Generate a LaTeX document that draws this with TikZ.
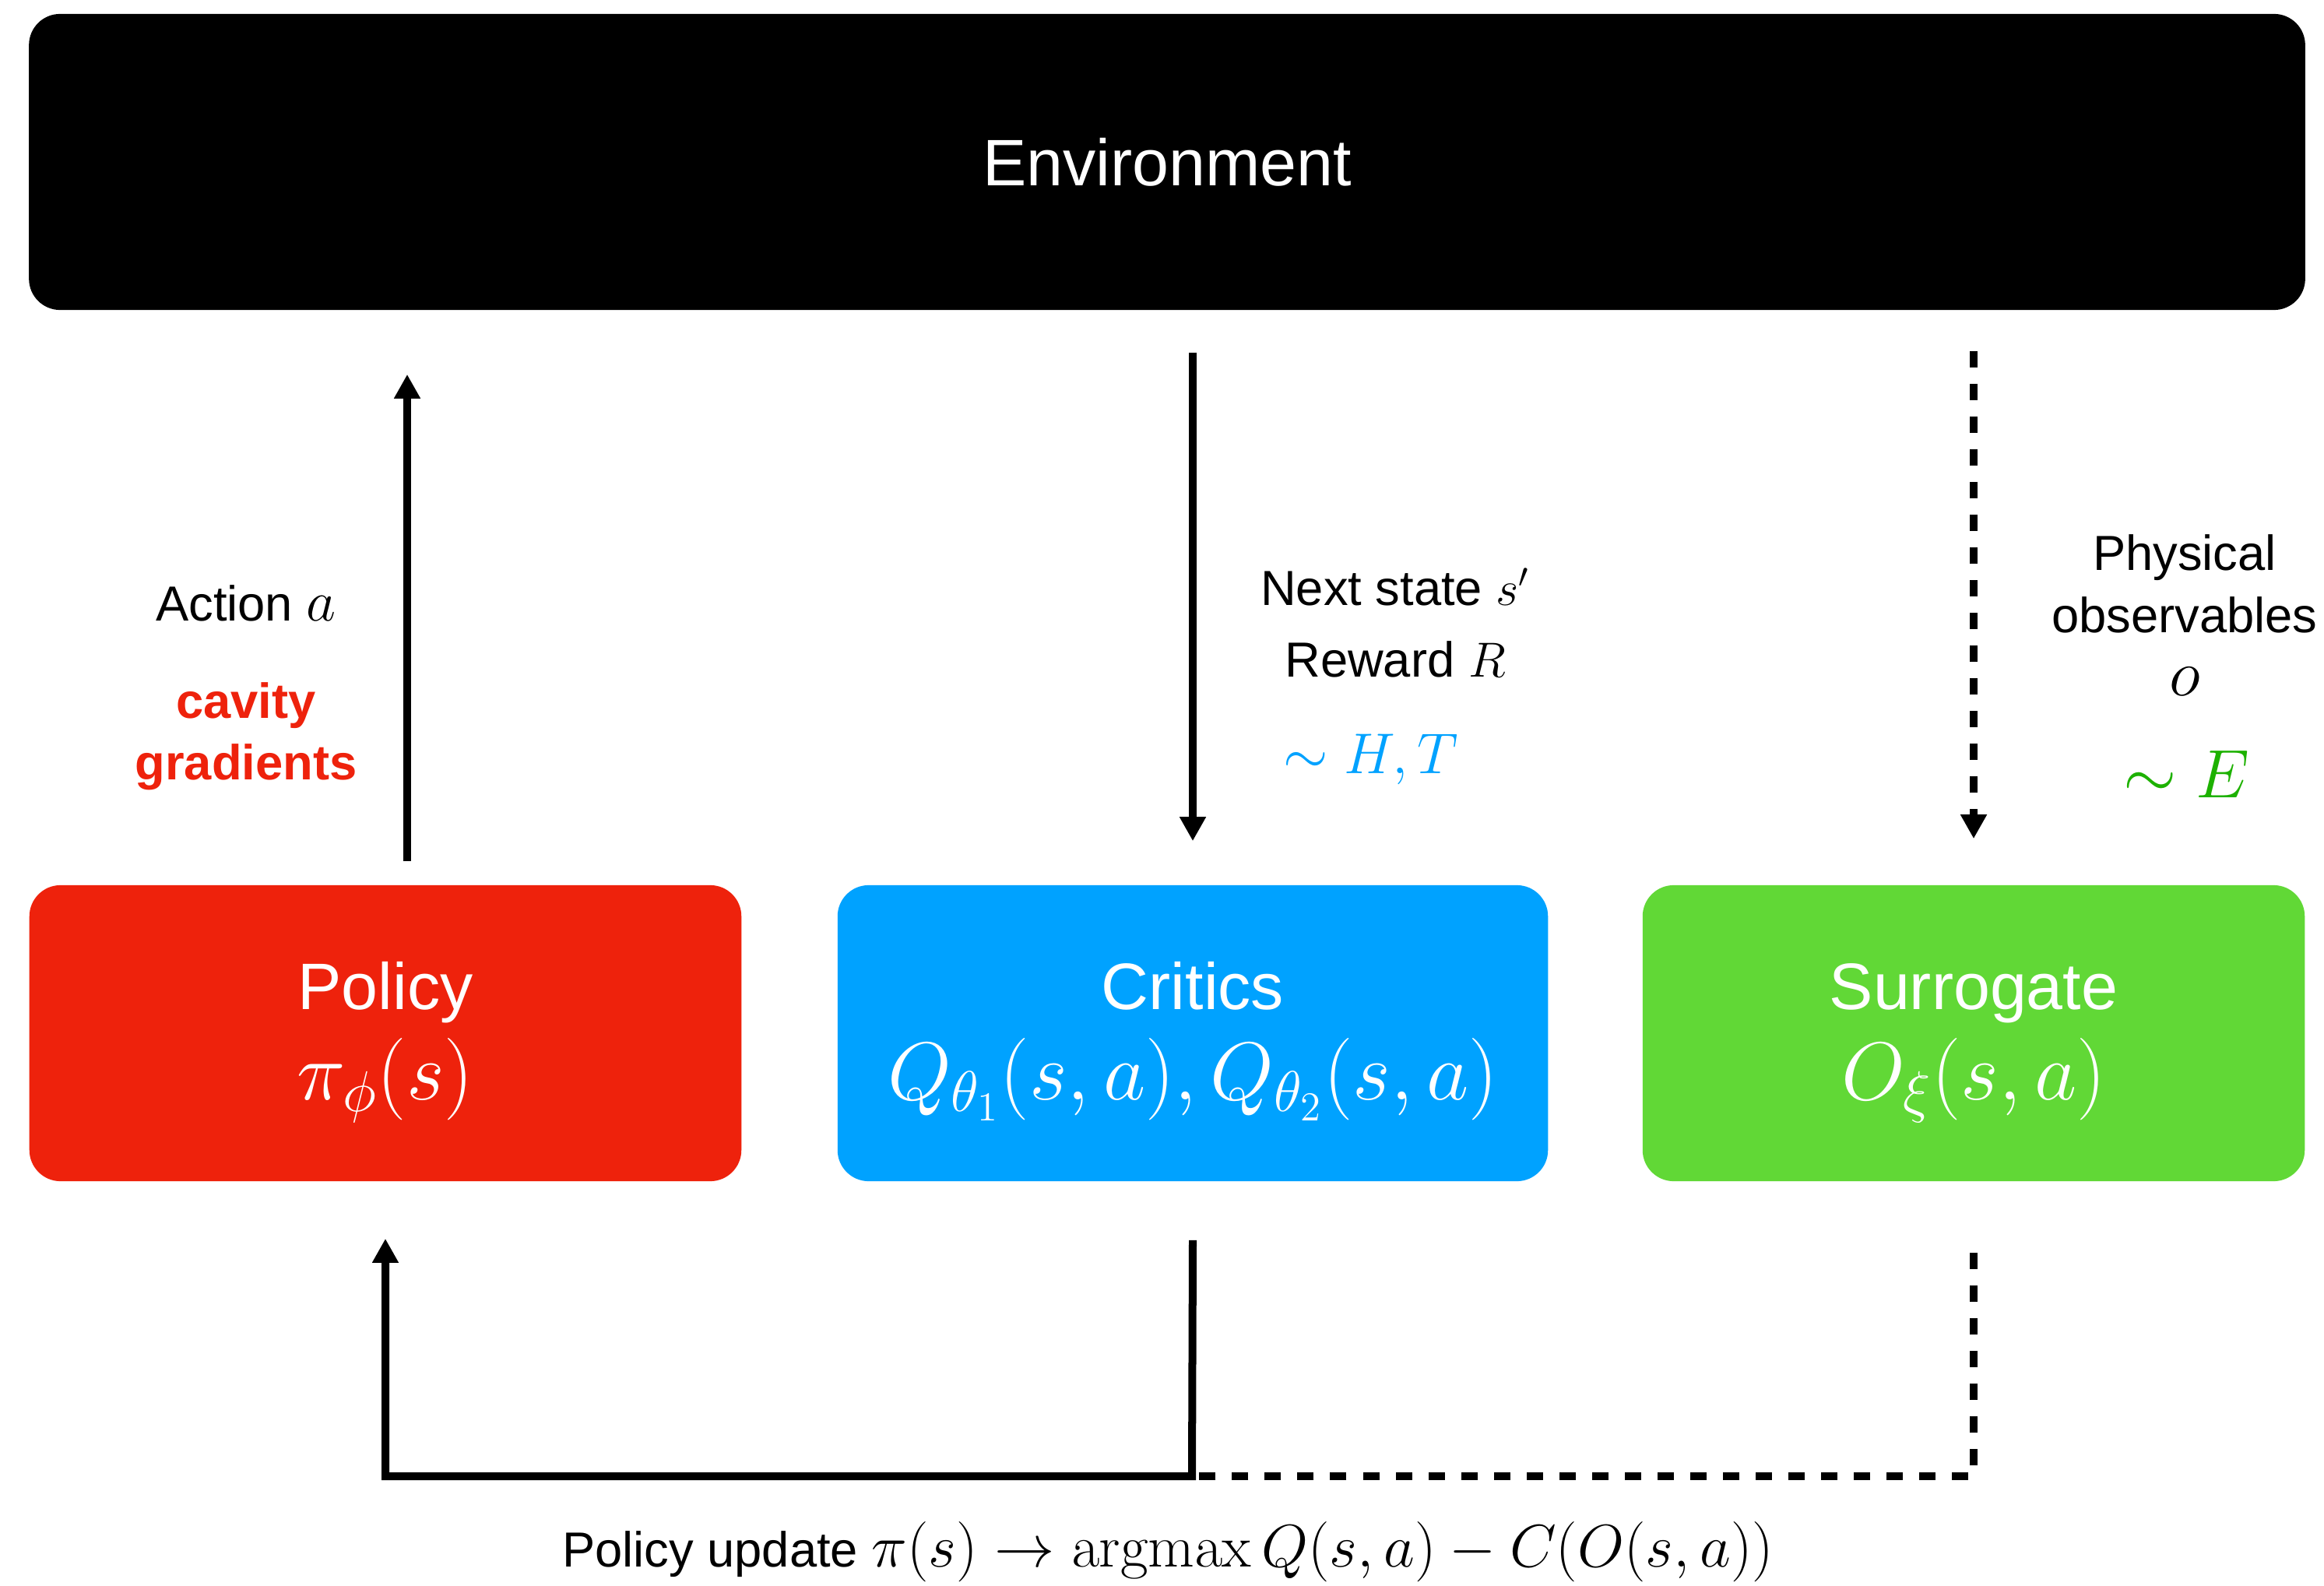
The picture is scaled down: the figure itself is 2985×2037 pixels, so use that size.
\documentclass[tikz,border=0pt]{standalone}
\usepackage{fix-cm}
\usepackage{fontspec}
\setmainfont{Liberation Sans}
\usetikzlibrary{arrows.meta}
\definecolor{kred}{HTML}{EE220C}
\definecolor{kblue}{HTML}{00A2FF}
\definecolor{kgreen}{HTML}{61D836}
\definecolor{dgreen}{HTML}{1DB100}
\tikzset{
  block/.style={rectangle, rounded corners=0.4cm, draw=none, text=white, align=center,
    minimum height=3.8cm, inner sep=0pt, font=\fontsize{24}{33}\selectfont},
  conn/.style={line width=0.1cm, line cap=butt, line join=miter},
  dashconn/.style={conn, dash pattern=on 0.21cm off 0.21cm},
  tip/.style={-{Triangle[width=0.32cm,length=0.31cm]}},
  lbl/.style={align=center, inner sep=0pt, font=\fontsize{18}{23}\selectfont},
}
\newcommand{\boxmath}{\fontsize{30}{33}\selectfont}
\newcommand{\topstrut}{\rule{0pt}{25.4pt}}
\newcommand{\botstrut}{\rule[-10pt]{0pt}{10pt}}
\newcommand{\cmrm}[1]{\mbox{\usefont{OT1}{cmr}{m}{n}#1}}
\begin{document}
\begin{tikzpicture}[x=0.01cm, y=-0.01cm]
\useasboundingbox (0,0) rectangle (2985,2037);

% blocks
\node[block, fill=black, minimum width=29.22cm] (env) at (1499,208) {Environment};
\node[block, fill=kred, minimum width=9.14cm] (policy) at (495,1327)
  {\topstrut Policy\\{\boxmath$\pi_\phi(s)$}\botstrut};
\node[block, fill=kblue, minimum width=9.12cm] (critics) at (1532,1327)
  {\topstrut Critics\\{\boxmath$Q_{\theta_1}(s,a), Q_{\theta_2}(s,a)$}\botstrut};
\node[block, fill=kgreen, minimum width=8.50cm] (surr) at (2535,1327)
  {\topstrut Surrogate\\{\boxmath$O_\xi(s,a)$}\botstrut};

% upper connectors
\draw[conn, tip, shorten <=0.30cm, shorten >=0.82cm]
  ([xshift=0.28cm]policy.north) -- ([xshift=0.28cm]policy.north |- env.south);
\draw[conn, tip, shorten <=0.54cm, shorten >=0.56cm]
  (env.south -| critics.north) -- (critics.north);
\draw[dashconn, tip, shorten <=0.52cm, shorten >=0.59cm]
  (env.south -| surr.north) -- (surr.north);

% labels
\node[lbl] (act) at (316,775) {Action {\fontsize{21}{23}\selectfont$a$}};
\node[lbl, text=kred, font=\fontsize{18}{22.5}\selectfont\bfseries] (cav) at (316,946) {cavity\\gradients};
\node[lbl, font=\fontsize{18}{25.9}\selectfont] (nsr) at (1792,800) {Next state $s'$\\Reward $R$};
\node[lbl, text=kblue, font=\fontsize{21}{26}\selectfont] (ht) at (1761,975) {$\sim H,T$};
\node[lbl] (phys) at (2806,790) {Physical\\observables\\{\fontsize{24}{23}\selectfont$o$}};
\node[lbl, text=dgreen, font=\fontsize{25}{28}\selectfont] (ee) at (2808,994) {$\sim E$};

% bottom connectors
\coordinate (jn) at (1531,1896);
\coordinate (cl) at (497,1896);
\coordinate (cr) at (2535,1896);
\draw[dashconn] ([yshift=-0.91cm]surr.south) -- (cr) -- (jn);
\draw[conn, tip, shorten >=0.73cm] ([yshift=-0.75cm]critics.south) -- (jn) -- (cl) -- (policy.south |- cl) -- (policy.south);

\node[lbl] (upd) at (1500,1993)
  {Policy update {\fontsize{22}{24}\selectfont$\pi(s) \rightarrow \cmrm{argmax}\, Q(s,a) - C(O(s,a))$}};
\end{tikzpicture}
\end{document}
